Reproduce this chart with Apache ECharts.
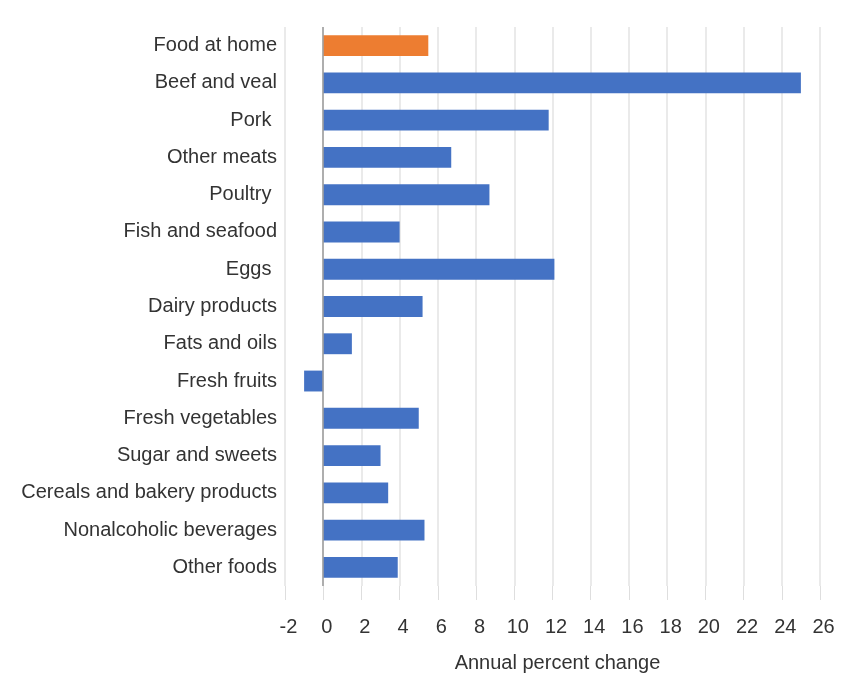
<!DOCTYPE html>
<html>
<head>
<meta charset="utf-8">
<script src="https://cdn.jsdelivr.net/npm/echarts@6/dist/echarts.min.js"></script>
<style>
html,body{margin:0;padding:0;background:#fff;}
#chart{width:843px;height:700px;}
</style>
</head>
<body>
<div id="chart"></div>
<script>
var categories = ["Food at home","Beef and veal","Pork ","Other meats","Poultry ","Fish and seafood","Eggs ","Dairy products","Fats and oils","Fresh fruits","Fresh vegetables","Sugar and sweets","Cereals and bakery products","Nonalcoholic beverages","Other foods"];
var values = [5.5, 25.0, 11.8, 6.7, 8.7, 4.0, 12.1, 5.2, 1.5, -1.0, 5.0, 3.0, 3.4, 5.3, 3.9];
var highlighted = ["Food at home"];
var xTicks = {min: -2, max: 26, interval: 2};
var axisTitle = "Annual percent change";

var blue = "#4472C4", orange = "#ED7D31";
var font = "'Liberation Sans', Arial, Helvetica, sans-serif";
var seriesData = values.map(function(v, i){
  return {value: v, itemStyle: {color: highlighted.indexOf(categories[i]) >= 0 ? orange : blue}};
});

var chart = echarts.init(document.getElementById('chart'), null, {renderer: 'canvas'});
chart.setOption({
  backgroundColor: '#ffffff',
  animation: false,
  grid: {left: 285, right: 23, top: 27, bottom: 114, containLabel: false},
  xAxis: {
    type: 'value', min: xTicks.min, max: xTicks.max, interval: xTicks.interval,
    name: axisTitle, nameLocation: 'middle', nameGap: 67,
    nameTextStyle: {color: '#333333', fontSize: 20, fontFamily: font, padding: [0, 0, 0, 10]},
    axisLine: {show: false},
    axisTick: {show: true, length: 14, lineStyle: {color: '#dedede'}},
    axisLabel: {color: '#333333', fontSize: 20, fontFamily: font, margin: 31, padding: [0, 0, 0, 7]},
    splitLine: {show: true, lineStyle: {color: '#e3e3e3', width: 1.5}}
  },
  yAxis: {
    type: 'category', inverse: true, data: categories,
    axisLine: {show: false, onZero: false},
    axisTick: {show: false},
    axisLabel: {color: '#333333', fontSize: 20, fontFamily: font, margin: 8, padding: [3, 0, 0, 0]},
    splitLine: {show: false}
  },
  series: [{
    type: 'bar', data: seriesData, barWidth: '56%',
    markLine: {
      silent: true, symbol: ['none', 'none'],
      label: {show: false},
      lineStyle: {color: '#9a9a9a', type: 'solid', width: 1.5},
      data: [{xAxis: 0}]
    }
  }]
});
</script>
</body>
</html>
